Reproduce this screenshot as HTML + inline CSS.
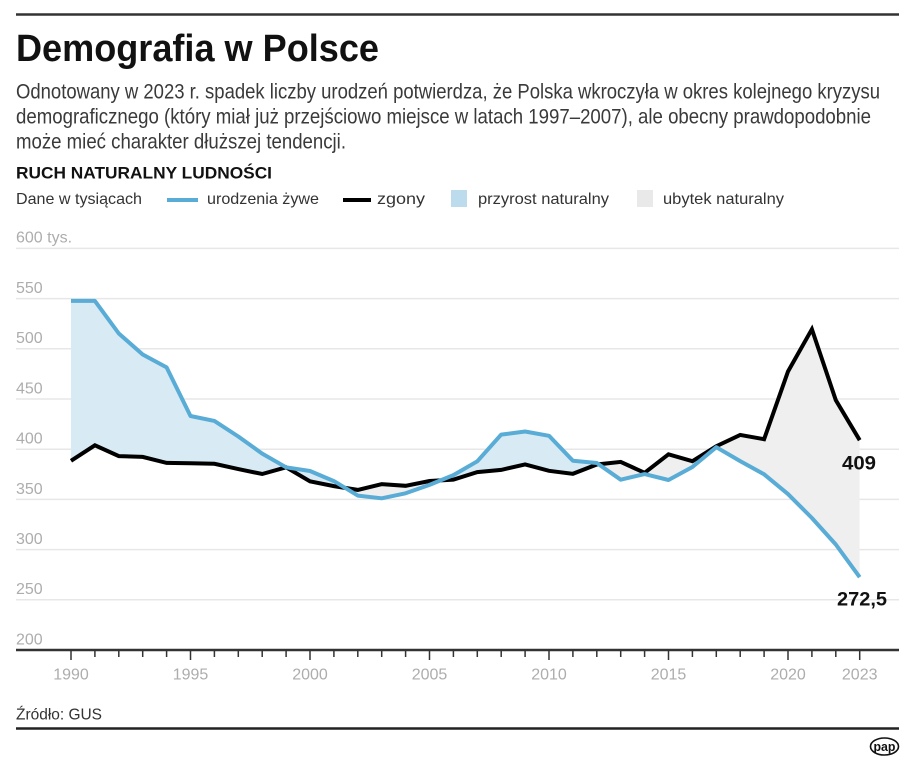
<!DOCTYPE html>
<html>
<head>
<meta charset="utf-8">
<style>
html,body{margin:0;padding:0;background:#fff;}
svg{display:block;}
text{font-family:"Liberation Sans","DejaVu Sans",sans-serif;}
</style>
</head>
<body>
<svg width="915" height="770" viewBox="0 0 915 770" xmlns="http://www.w3.org/2000/svg">
<defs>
<clipPath id="belowBirths"><polygon points="71,300.9 94.9,300.9 118.8,333.5 142.7,354.5 166.6,367.4 190.5,416.0 214.4,420.9 238.3,436.5 262.2,453.6 286.1,467.3 310,471.0 333.9,481.1 357.8,495.6 381.7,498.3 405.6,493.3 429.5,484.9 453.4,475.1 477.3,461.3 501.2,434.6 525.1,431.5 549,435.8 572.9,460.8 596.8,463.0 620.7,479.7 644.6,474.1 668.5,480.0 692.4,467.0 716.3,447.2 740.2,461.1 764.1,474.3 788,494.1 811.9,518.0 835.8,544.5 859.7,577.2 859.7,700 71,700"/></clipPath>
<clipPath id="belowDeaths"><polygon points="71,460.8 94.9,445.3 118.8,456.1 142.7,456.9 166.6,462.9 190.5,463.2 214.4,463.8 238.3,469.1 262.2,474.0 286.1,467.3 310,481.3 333.9,486.1 357.8,489.9 381.7,484.1 405.6,485.8 429.5,481.0 453.4,479.6 477.3,472.1 501.2,469.9 525.1,464.4 549,470.8 572.9,473.8 596.8,464.5 620.7,461.9 644.6,472.8 668.5,454.3 692.4,461.2 716.3,446.2 740.2,434.9 764.1,439.2 788,371.5 811.9,329.2 835.8,400.1 859.7,440.2 859.7,700 71,700"/></clipPath>
</defs>

<!-- top rule -->
<line x1="16" y1="14.5" x2="899" y2="14.5" stroke="#333" stroke-width="2.5"/>

<!-- title -->
<text x="16" y="61" font-size="38" font-weight="bold" fill="#111" textLength="363" lengthAdjust="spacingAndGlyphs">Demografia w Polsce</text>

<!-- paragraph -->
<text x="16" y="98.5" font-size="21" fill="#3a3a3a" textLength="864" lengthAdjust="spacingAndGlyphs">Odnotowany w 2023 r. spadek liczby urodzeń potwierdza, że Polska wkroczyła w okres kolejnego kryzysu</text>
<text x="16" y="123.5" font-size="21" fill="#3a3a3a" textLength="855" lengthAdjust="spacingAndGlyphs">demograficznego (który miał już przejściowo miejsce w latach 1997–2007), ale obecny prawdopodobnie</text>
<text x="16" y="148.5" font-size="21" fill="#3a3a3a" textLength="330" lengthAdjust="spacingAndGlyphs">może mieć charakter dłuższej tendencji.</text>

<!-- subtitle -->
<text x="16" y="178.3" font-size="16.5" font-weight="bold" fill="#111" textLength="256" lengthAdjust="spacingAndGlyphs">RUCH NATURALNY LUDNOŚCI</text>

<!-- legend -->
<text x="16" y="204" font-size="16" fill="#333" textLength="126" lengthAdjust="spacingAndGlyphs">Dane w tysiącach</text>
<line x1="167" y1="200" x2="198" y2="200" stroke="#58acd5" stroke-width="4"/>
<text x="207" y="204" font-size="16" fill="#333" textLength="112" lengthAdjust="spacingAndGlyphs">urodzenia żywe</text>
<line x1="343" y1="200" x2="371" y2="200" stroke="#000" stroke-width="4"/>
<text x="377" y="204" font-size="16" fill="#333" textLength="48" lengthAdjust="spacingAndGlyphs">zgony</text>
<rect x="451" y="190" width="16" height="17" fill="#bcdcee"/>
<text x="478" y="204" font-size="16" fill="#333" textLength="131" lengthAdjust="spacingAndGlyphs">przyrost naturalny</text>
<rect x="637" y="190" width="16" height="17" fill="#e9e9e9"/>
<text x="663" y="204" font-size="16" fill="#333" textLength="121" lengthAdjust="spacingAndGlyphs">ubytek naturalny</text>

<!-- gridlines -->
<g stroke="#e7e7e7" stroke-width="1.5">
<line x1="16" y1="248.4" x2="899" y2="248.4"/>
<line x1="16" y1="298.6" x2="899" y2="298.6"/>
<line x1="16" y1="348.8" x2="899" y2="348.8"/>
<line x1="16" y1="399" x2="899" y2="399"/>
<line x1="16" y1="449.2" x2="899" y2="449.2"/>
<line x1="16" y1="499.4" x2="899" y2="499.4"/>
<line x1="16" y1="549.6" x2="899" y2="549.6"/>
<line x1="16" y1="599.8" x2="899" y2="599.8"/>
</g>

<!-- y labels -->
<g font-size="16" fill="#adadad">
<text x="16" y="242.5">600 tys.</text>
<text x="16" y="293">550</text>
<text x="16" y="343.2">500</text>
<text x="16" y="393.4">450</text>
<text x="16" y="443.6">400</text>
<text x="16" y="493.8">350</text>
<text x="16" y="544">300</text>
<text x="16" y="594.2">250</text>
<text x="16" y="644.4">200</text>
</g>

<!-- fills -->
<polygon clip-path="url(#belowBirths)" fill="#d8eaf4" points="71,460.8 94.9,445.3 118.8,456.1 142.7,456.9 166.6,462.9 190.5,463.2 214.4,463.8 238.3,469.1 262.2,474.0 286.1,467.3 310,481.3 333.9,486.1 357.8,489.9 381.7,484.1 405.6,485.8 429.5,481.0 453.4,479.6 477.3,472.1 501.2,469.9 525.1,464.4 549,470.8 572.9,473.8 596.8,464.5 620.7,461.9 644.6,472.8 668.5,454.3 692.4,461.2 716.3,446.2 740.2,434.9 764.1,439.2 788,371.5 811.9,329.2 835.8,400.1 859.7,440.2 859.7,0 71,0"/>
<polygon clip-path="url(#belowDeaths)" fill="#efefef" points="71,300.9 94.9,300.9 118.8,333.5 142.7,354.5 166.6,367.4 190.5,416.0 214.4,420.9 238.3,436.5 262.2,453.6 286.1,467.3 310,471.0 333.9,481.1 357.8,495.6 381.7,498.3 405.6,493.3 429.5,484.9 453.4,475.1 477.3,461.3 501.2,434.6 525.1,431.5 549,435.8 572.9,460.8 596.8,463.0 620.7,479.7 644.6,474.1 668.5,480.0 692.4,467.0 716.3,447.2 740.2,461.1 764.1,474.3 788,494.1 811.9,518.0 835.8,544.5 859.7,577.2 859.7,0 71,0"/>

<!-- lines -->
<polyline fill="none" stroke="#000" stroke-width="4" stroke-linejoin="miter" stroke-miterlimit="4" points="71,460.8 94.9,445.3 118.8,456.1 142.7,456.9 166.6,462.9 190.5,463.2 214.4,463.8 238.3,469.1 262.2,474.0 286.1,467.3 310,481.3 333.9,486.1 357.8,489.9 381.7,484.1 405.6,485.8 429.5,481.0 453.4,479.6 477.3,472.1 501.2,469.9 525.1,464.4 549,470.8 572.9,473.8 596.8,464.5 620.7,461.9 644.6,472.8 668.5,454.3 692.4,461.2 716.3,446.2 740.2,434.9 764.1,439.2 788,371.5 811.9,329.2 835.8,400.1 859.7,440.2"/>
<polyline fill="none" stroke="#58acd5" stroke-width="4" stroke-linejoin="round" points="71,300.9 94.9,300.9 118.8,333.5 142.7,354.5 166.6,367.4 190.5,416.0 214.4,420.9 238.3,436.5 262.2,453.6 286.1,467.3 310,471.0 333.9,481.1 357.8,495.6 381.7,498.3 405.6,493.3 429.5,484.9 453.4,475.1 477.3,461.3 501.2,434.6 525.1,431.5 549,435.8 572.9,460.8 596.8,463.0 620.7,479.7 644.6,474.1 668.5,480.0 692.4,467.0 716.3,447.2 740.2,461.1 764.1,474.3 788,494.1 811.9,518.0 835.8,544.5 859.7,577.2"/>

<!-- value labels -->
<text x="842" y="469.5" font-size="19" font-weight="bold" fill="#111" textLength="34" lengthAdjust="spacingAndGlyphs">409</text>
<text x="837" y="605.7" font-size="19" font-weight="bold" fill="#111" textLength="50" lengthAdjust="spacingAndGlyphs">272,5</text>

<!-- x axis -->
<line x1="16" y1="650" x2="899" y2="650" stroke="#333" stroke-width="2.5"/>
<g stroke="#333" stroke-width="1.5">
<line x1="71" y1="650" x2="71" y2="660"/>
<line x1="94.9" y1="650" x2="94.9" y2="657"/>
<line x1="118.8" y1="650" x2="118.8" y2="657"/>
<line x1="142.7" y1="650" x2="142.7" y2="657"/>
<line x1="166.6" y1="650" x2="166.6" y2="657"/>
<line x1="190.5" y1="650" x2="190.5" y2="660"/>
<line x1="214.4" y1="650" x2="214.4" y2="657"/>
<line x1="238.3" y1="650" x2="238.3" y2="657"/>
<line x1="262.2" y1="650" x2="262.2" y2="657"/>
<line x1="286.1" y1="650" x2="286.1" y2="657"/>
<line x1="310" y1="650" x2="310" y2="660"/>
<line x1="333.9" y1="650" x2="333.9" y2="657"/>
<line x1="357.8" y1="650" x2="357.8" y2="657"/>
<line x1="381.7" y1="650" x2="381.7" y2="657"/>
<line x1="405.6" y1="650" x2="405.6" y2="657"/>
<line x1="429.5" y1="650" x2="429.5" y2="660"/>
<line x1="453.4" y1="650" x2="453.4" y2="657"/>
<line x1="477.3" y1="650" x2="477.3" y2="657"/>
<line x1="501.2" y1="650" x2="501.2" y2="657"/>
<line x1="525.1" y1="650" x2="525.1" y2="657"/>
<line x1="549" y1="650" x2="549" y2="660"/>
<line x1="572.9" y1="650" x2="572.9" y2="657"/>
<line x1="596.8" y1="650" x2="596.8" y2="657"/>
<line x1="620.7" y1="650" x2="620.7" y2="657"/>
<line x1="644.6" y1="650" x2="644.6" y2="657"/>
<line x1="668.5" y1="650" x2="668.5" y2="660"/>
<line x1="692.4" y1="650" x2="692.4" y2="657"/>
<line x1="716.3" y1="650" x2="716.3" y2="657"/>
<line x1="740.2" y1="650" x2="740.2" y2="657"/>
<line x1="764.1" y1="650" x2="764.1" y2="657"/>
<line x1="788" y1="650" x2="788" y2="660"/>
<line x1="811.9" y1="650" x2="811.9" y2="657"/>
<line x1="835.8" y1="650" x2="835.8" y2="657"/>
<line x1="859.7" y1="650" x2="859.7" y2="660"/>
</g>
<g font-size="16" fill="#adadad" text-anchor="middle">
<text x="71" y="679.5">1990</text>
<text x="190.5" y="679.5">1995</text>
<text x="310" y="679.5">2000</text>
<text x="429.5" y="679.5">2005</text>
<text x="549" y="679.5">2010</text>
<text x="668.5" y="679.5">2015</text>
<text x="788" y="679.5">2020</text>
<text x="859.7" y="679.5">2023</text>
</g>

<!-- source -->
<text x="16" y="719.5" font-size="16" fill="#333" textLength="86" lengthAdjust="spacingAndGlyphs">Źródło: GUS</text>
<line x1="16" y1="728.5" x2="899" y2="728.5" stroke="#222" stroke-width="2.5"/>

<!-- pap logo -->
<ellipse cx="884.5" cy="746.5" rx="14" ry="8.5" fill="#fff" stroke="#111" stroke-width="1.6"/>
<text x="884.5" y="751" font-size="13" font-weight="bold" fill="#111" text-anchor="middle" textLength="22" lengthAdjust="spacingAndGlyphs">pap</text>
</svg>
</body>
</html>
